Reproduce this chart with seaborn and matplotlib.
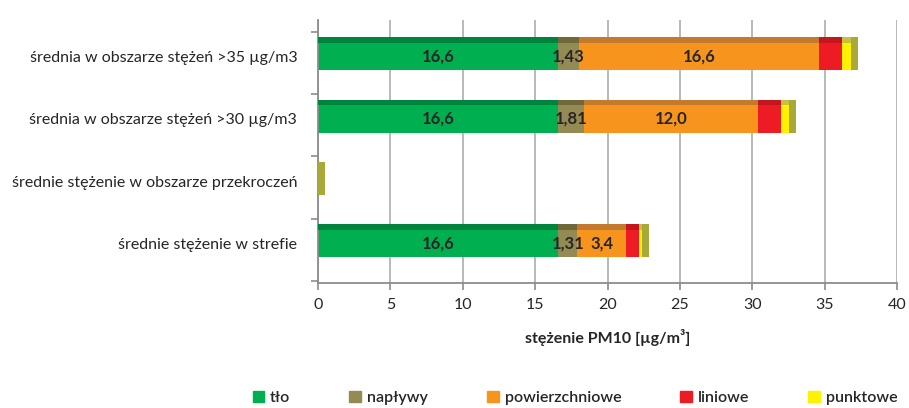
import numpy as np
import pandas as pd
import matplotlib
matplotlib.use("Agg")
import matplotlib.pyplot as plt
import seaborn as sns

# Source-apportionment of PM10 concentration per area type
categories = [
    "średnia w obszarze stężeń >35 µg/m3",
    "średnia w obszarze stężeń >30 µg/m3",
    "średnie stężenie w obszarze przekroczeń",
    "średnie stężenie w strefie",
]
series_names = ["tło", "napływy", "powierzchniowe", "liniowe", "punktowe"]
tlo = [16.6, 16.6, 0.0, 16.6]
naplywy = [1.43, 1.81, 0.0, 1.31]
powierzchniowe = [16.6, 12.0, 0.0, 3.4]
liniowe = [1.58, 1.57, 0.0, 0.9]
punktowe = [0.6, 0.55, 0.0, 0.18]

# labels shown on the bars (series -> decimals)
label_decimals = {"tło": 1, "napływy": 2, "powierzchniowe": 1}

face_colors = ["#00B050", "#948A54", "#F7941D", "#ED1C24", "#FFF200"]
top_colors = ["#00843D", "#6F6839", "#C47A2C", "#C4161C", "#C8C23A"]
cap_color = "#A9A93A"

values = pd.DataFrame(
    {"kategoria": categories, "tło": tlo, "napływy": naplywy,
     "powierzchniowe": powierzchniowe, "liniowe": liniowe, "punktowe": punktowe}
)
cum = values[series_names].cumsum(axis=1)
starts = cum - values[series_names]

sns.set_theme(style="white")
plt.rcParams["font.family"] = ["Lato", "DejaVu Sans"]

fig = plt.figure(figsize=(9.09, 4.08), dpi=100)
ax = fig.add_axes([318 / 909, 1 - 283 / 408, (897 - 318) / 909, (283 - 20) / 408])

# stacked bars: draw cumulative totals from the outermost series inwards
for name, color in reversed(list(zip(series_names, face_colors))):
    sns.barplot(data=cum.assign(kategoria=categories), x=name, y="kategoria",
                orient="h", color=color, width=0.44, saturation=1,
                edgecolor="none", ax=ax)

ypos = np.arange(len(categories))
depth = 0.09
# darker top faces for a shallow 3D look
for name, color in zip(series_names, top_colors):
    ax.barh(ypos - 0.22 - depth / 2, values[name], left=starts[name],
            height=depth, color=color, edgecolor="none", zorder=3)
# end caps on the right side of each bar
totals = cum[series_names[-1]].to_numpy()
ax.barh(ypos - depth / 2, [0.5] * len(totals), left=totals,
        height=0.44 + depth, color=cap_color, edgecolor="none", zorder=3)

# value labels
for name, dec in label_decimals.items():
    for i, v in enumerate(values[name]):
        if v <= 0:
            continue
        txt = f"{v:.{dec}f}".replace(".", ",")
        ax.text(starts[name][i] + v / 2, ypos[i], txt, ha="center", va="center",
                fontsize=12, fontweight="bold", color="#262626", zorder=4)

ax.set_xlim(0, 40)
ax.set_ylim(3.634, -0.586)
ax.set_xticks(np.arange(0, 41, 5))
ax.set_xticklabels([str(t) for t in range(0, 41, 5)], fontsize=11.5, color="#262626")
ax.set_yticks(ypos)
ax.set_yticklabels(categories, fontsize=11.5, color="#262626")
ax.set_yticks(np.arange(5) - 0.4, minor=True)
ax.tick_params(axis="y", which="major", length=0, pad=15)
ax.tick_params(axis="y", which="minor", length=5, width=1.2, color="#8C8C8C", left=True)
ax.tick_params(axis="x", length=5, width=1.2, color="#8C8C8C", bottom=True, pad=6)
ax.grid(axis="x", color="#A6A6A6", linewidth=1.1)
ax.set_axisbelow(True)
for side in ["top", "right"]:
    ax.spines[side].set_visible(False)
for side in ["left", "bottom"]:
    ax.spines[side].set_color("#8C8C8C")
    ax.spines[side].set_linewidth(1.3)
ax.set_ylabel("")
ax.set_xlabel("stężenie PM10 [µg/m³]", fontsize=11.5, fontweight="bold",
              color="#262626", labelpad=12)

handles = [plt.Rectangle((0, 0), 1, 1, color=c) for c in face_colors]
fig.legend(handles, series_names, loc="center", bbox_to_anchor=(575 / 909, 1 - 398 / 408),
           ncol=5, frameon=False, handlelength=0.75, handleheight=0.75,
           handletextpad=0.35, columnspacing=3.7,
           prop={"size": 11.5, "weight": "semibold"})

fig.savefig("out.png", dpi=100)
